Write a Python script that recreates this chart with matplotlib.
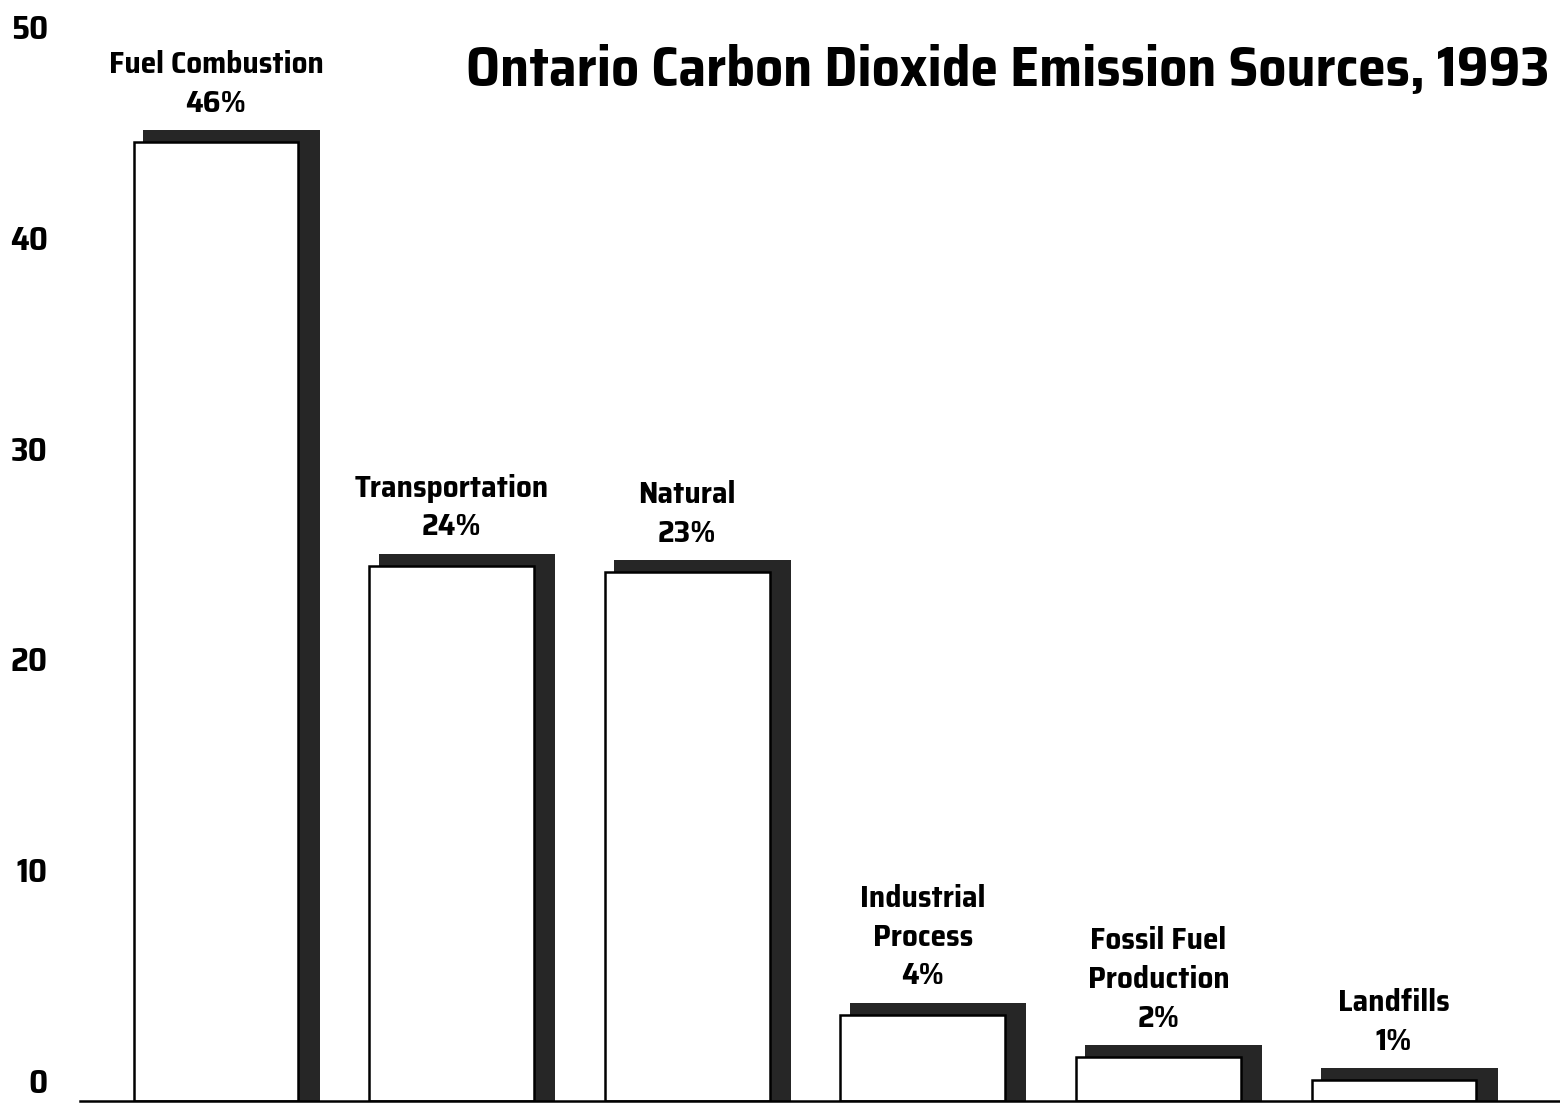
import numpy as np
import matplotlib.pyplot as plt
import matplotlib.transforms as mtransforms
from matplotlib import font_manager

# values (bar heights) and their printed labels
sources = ["Fuel Combustion", "Transportation", "Natural", "Industrial\nProcess",
           "Fossil Fuel\nProduction", "Landfills"]
shares = ["46%", "24%", "23%", "4%", "2%", "1%"]
heights = [45.5, 25.4, 25.1, 4.1, 2.1, 1.0]
yticks = [0, 10, 20, 30, 40, 50]

if __name__ == "__main__":
    names = set(f.name for f in font_manager.fontManager.ttflist)
    fam = [n for n in ['Saira SemiCondensed', 'Sofia Sans Condensed'] if n in names]
    plt.rcParams.update({'font.family': fam + ['DejaVu Sans'], 'font.weight': 'bold'})

    W, H = 1560, 1104
    fig = plt.figure(figsize=(W / 100, H / 100), dpi=100)
    left_px, base_px = 80, 3
    ax = fig.add_axes([left_px / W, base_px / H, 1 - left_px / W, 1 - base_px / H])

    step = 235.6      # px between bar centres
    unit = 21.08      # px per y unit
    first = 216       # px centre of first bar
    ax.set_xlim(-(first - left_px) / step, (W - first) / step)
    ax.set_ylim(0, (H - base_px) / unit)

    x = np.arange(len(sources))
    bw = 0.70
    # dark "3d" shadow behind each bar
    ax.bar(x - bw / 2 + 0.04, np.array(heights) + 0.55, width=bw + 0.05, align='edge',
           color='#262626', linewidth=0, zorder=1)
    ax.bar(x - bw / 2, heights, width=bw, align='edge', color='white',
           edgecolor='black', linewidth=1.8, zorder=2)

    for xi, h, name, pct in zip(x, heights, sources, shares):
        ax.annotate(name + "\n" + pct, (xi, h + 0.55), xytext=(0, 9),
                    textcoords='offset points', ha='center', va='bottom',
                    fontsize=22.5, fontweight='bold', linespacing=1.42)

    ax.set_yticks(yticks)
    ax.set_yticklabels([str(v) for v in yticks], fontsize=24, fontweight='bold')
    ax.tick_params(axis='y', length=0, pad=23)
    shift = mtransforms.ScaledTranslation(0, 0.2, fig.dpi_scale_trans)
    for lab in ax.get_yticklabels():
        lab.set_transform(lab.get_transform() + shift)
    ax.set_xticks([])
    for s in ['top', 'right', 'left']:
        ax.spines[s].set_visible(False)
    ax.spines['bottom'].set_linewidth(1.8)

    fig.text(1550 / W, 1 - 70 / H, "Ontario Carbon Dioxide Emission Sources, 1993",
             ha='right', va='center', fontsize=40, fontweight='bold')

    plt.savefig("out.png", dpi=100)
